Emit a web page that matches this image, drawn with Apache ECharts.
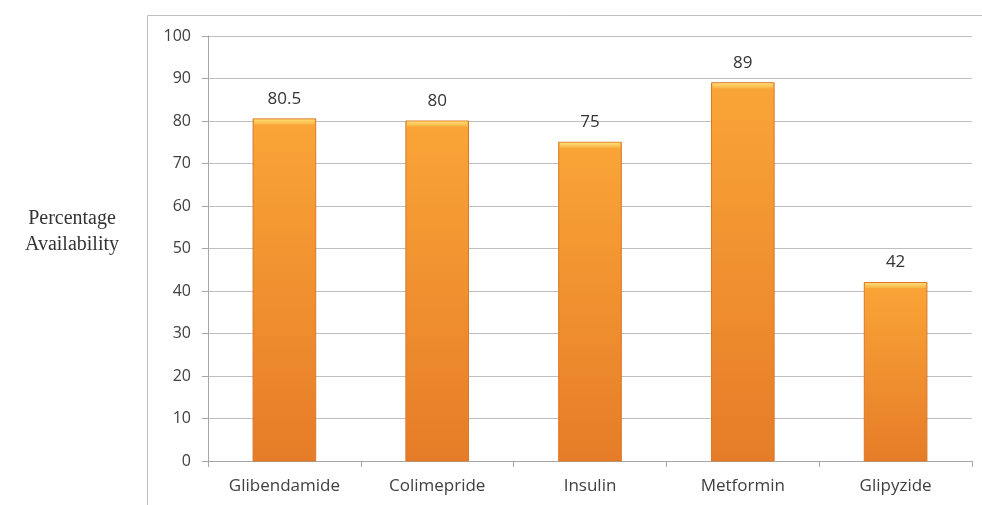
<!DOCTYPE html>
<html>
<head>
<meta charset="utf-8">
<script src="https://cdn.jsdelivr.net/npm/echarts@6/dist/echarts.min.js"></script>
<style>
  html, body { margin: 0; padding: 0; background: #fff; }
  #chart { width: 982px; height: 505px; }
</style>
</head>
<body>
<div id="chart"></div>
<script>
// Drug availability data
const categories = ['Glibendamide', 'Colimepride', 'Insulin', 'Metformin', 'Glipyzide'];
const availability = [80.5, 80, 75, 89, 42];
const yTicks = [0, 10, 20, 30, 40, 50, 60, 70, 80, 90, 100];

const chart = echarts.init(document.getElementById('chart'));

const bodyFill = new echarts.graphic.LinearGradient(0, 0, 0, 1, [
  { offset: 0, color: '#FAA537' },
  { offset: 1, color: '#E67C28' }
]);

function renderBar(params, api) {
  const idx = api.value(0);
  const val = api.value(1);
  const top = api.coord([idx, val]);
  const base = api.coord([idx, 0]);
  const bw = api.size([1, 0])[0] * 0.41;
  const x = top[0] - bw / 2;
  const h = base[1] - top[1];
  return {
    type: 'group',
    children: [
      {
        type: 'rect',
        shape: { x: x, y: top[1], width: bw, height: h },
        style: { fill: bodyFill, stroke: '#D9782A', lineWidth: 1 }
      },
      {
        type: 'rect',
        shape: { x: x + 1, y: top[1] + 0.5, width: bw - 2, height: 5 },
        style: {
          fill: new echarts.graphic.LinearGradient(0, 0, 0, 1, [
            { offset: 0, color: '#FDDB72' },
            { offset: 1, color: '#F9B545' }
          ])
        }
      },
      {
        type: 'text',
        style: {
          text: String(val),
          x: top[0],
          y: top[1] - 20,
          align: 'center',
          verticalAlign: 'middle',
          fill: '#333',
          font: '17px "Open Sans", sans-serif'
        }
      }
    ]
  };
}

chart.setOption({
  animation: false,
  graphic: [
    {
      type: 'rect',
      shape: { x: 147.5, y: 15.5, width: 850, height: 500 },
      style: { fill: 'none', stroke: '#BFBFBF', lineWidth: 1 }
    },
    {
      type: 'text',
      style: {
        text: 'Percentage\nAvailability',
        x: 72, y: 232,
        align: 'center', verticalAlign: 'middle',
        lineHeight: 26,
        fill: '#333',
        font: '20px "Liberation Serif", serif'
      }
    }
  ],
  grid: { left: 208, right: 10, top: 36, bottom: 44 },
  xAxis: {
    type: 'category',
    data: categories,
    axisLine: { lineStyle: { color: '#A6A6A6' } },
    axisTick: { show: true, length: 6, lineStyle: { color: '#A6A6A6' } },
    axisLabel: { color: '#404040', fontSize: 17, margin: 17, fontFamily: '"Open Sans", sans-serif' }
  },
  yAxis: {
    type: 'value',
    min: yTicks[0],
    max: yTicks[yTicks.length - 1],
    interval: yTicks[1] - yTicks[0],
    axisLine: { show: true, lineStyle: { color: '#A6A6A6' } },
    axisTick: { show: true, length: 6, lineStyle: { color: '#A6A6A6' } },
    axisLabel: { color: '#404040', fontSize: 16, margin: 17, fontFamily: '"Open Sans", sans-serif' },
    splitLine: { lineStyle: { color: '#BFBFBF' } }
  },
  series: [{
    type: 'custom',
    renderItem: renderBar,
    encode: { x: 0, y: 1 },
    data: availability.map((v, i) => [i, v])
  }]
});
</script>
</body>
</html>
